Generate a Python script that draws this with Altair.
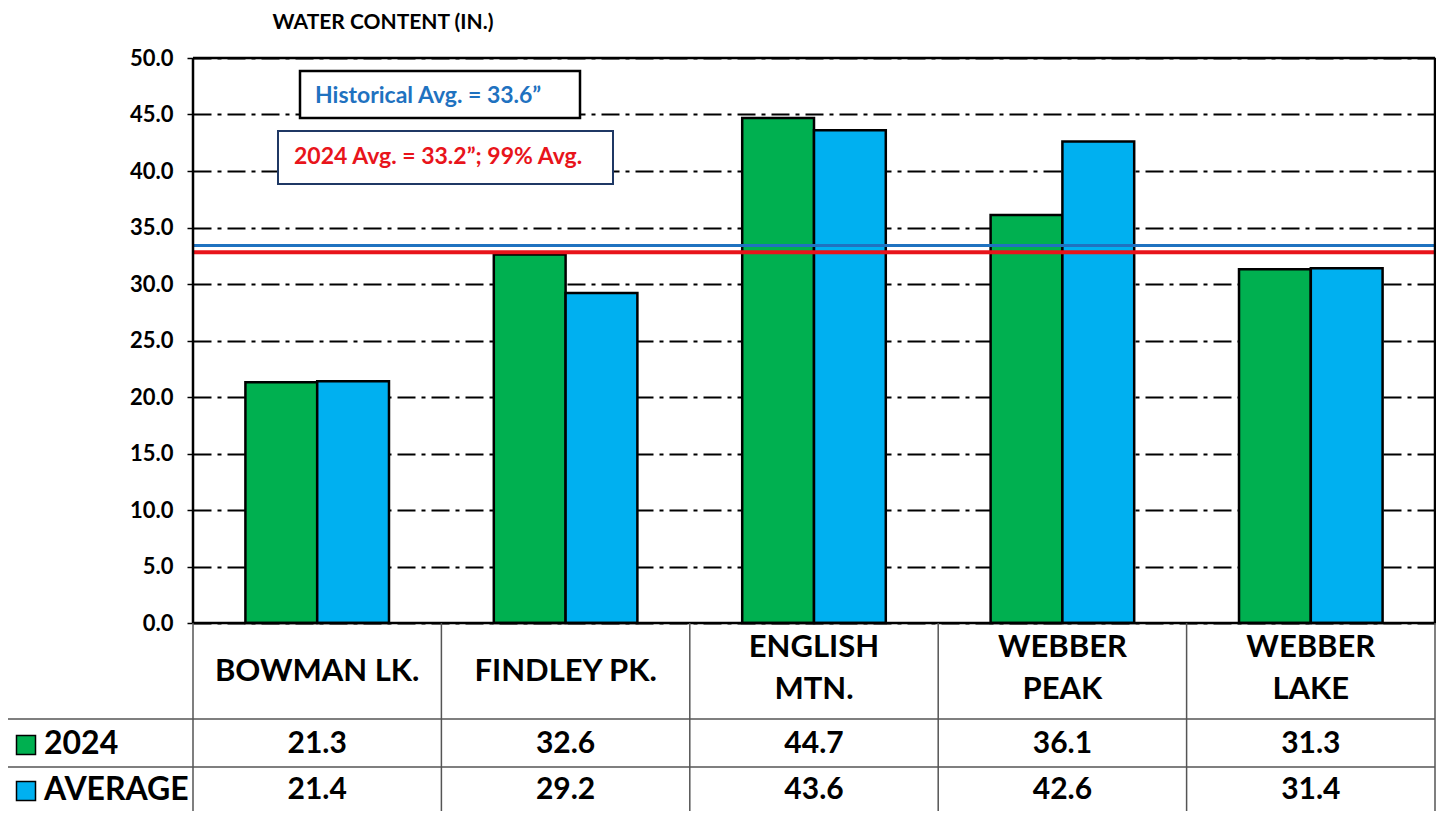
import altair as alt
import pandas as pd

# ---------------- data ----------------
sites = ["BOWMAN LK.", "FINDLEY PK.", "ENGLISH MTN.", "WEBBER PEAK", "WEBBER LAKE"]
site_labels = ["BOWMAN LK.", "FINDLEY PK.", "ENGLISH\nMTN.", "WEBBER\nPEAK", "WEBBER\nLAKE"]
series = ["2024", "AVERAGE"]
values_2024 = [21.3, 32.6, 44.7, 36.1, 31.3]
values_avg = [21.4, 29.2, 43.6, 42.6, 31.4]
series_colors = ["#00B050", "#00B0F0"]
y_ticks = [0, 5, 10, 15, 20, 25, 30, 35, 40, 45, 50]
hist_line_value = 33.4      # position of the drawn historical-average line
avg2024_line_value = 32.8   # position of the drawn 2024-average line
hist_text = "Historical Avg. = 33.6\u201d"
avg2024_text = "2024 Avg. = 33.2\u201d; 99% Avg."
chart_title = "WATER CONTENT (IN.)"

# ---------------- layout ----------------
W, H = 1242, 565
FONT = "Lato"
TABLE_BOTTOM = 753
ROW_LINE1, ROW_LINE2 = 661, 709
ROW1_Y, ROW2_Y = 686, 732
HEAD_Y1, HEAD_Y2 = 614, 590
LINE_COLOR = "#555555"

bars_df = pd.DataFrame({
    "site": sites * 2,
    "series": [series[0]] * len(sites) + [series[1]] * len(sites),
    "value": values_2024 + values_avg,
})
bars_df["label"] = bars_df["value"].map(lambda v: f"{v:.1f}")
sites_df = pd.DataFrame({"site": sites, "header": site_labels})
sites_df["lines"] = sites_df["header"].str.count("\n") + 1
lines_df = pd.DataFrame({"name": ["hist", "y2024"], "v": [hist_line_value, avg2024_line_value]})
legend_df = pd.DataFrame({"series": series})
one = alt.Data(values=[{}])

xscale = alt.Scale(domain=sites, paddingInner=0, paddingOuter=0)
X = alt.X("site:N", scale=xscale, axis=None, sort=sites)

bars = alt.Chart(bars_df).mark_bar(stroke="black", strokeWidth=2.5).encode(
    x=X,
    xOffset=alt.XOffset("series:N", sort=series,
                        scale=alt.Scale(domain=series, paddingInner=0, paddingOuter=0.73)),
    y=alt.Y("value:Q",
            scale=alt.Scale(domain=[0, 50], nice=False, zero=True),
            axis=alt.Axis(values=y_ticks, format=".1f", title=None, domain=False,
                          grid=True, gridColor="black", gridDash=[18, 6, 4, 6], gridWidth=2,
                          ticks=True, tickSize=6, tickColor="black", tickWidth=1.5,
                          labelFont=FONT, labelFontSize=22, labelFontWeight="bold",
                          labelColor="black", labelPadding=14)),
    color=alt.Color("series:N", scale=alt.Scale(domain=series, range=series_colors), legend=None),
)

hist_line = alt.Chart(lines_df).transform_filter(alt.datum.name == "hist").mark_rule(
    color="#1F72C0", strokeWidth=3).encode(y="v:Q")
y24_line = alt.Chart(lines_df).transform_filter(alt.datum.name == "y2024").mark_rule(
    color="#E8141B", strokeWidth=4).encode(y="v:Q")

# plot frame drawn explicitly on top of the grid
frame_style = dict(color="black", strokeWidth=2.5)
frame_top = alt.Chart(one).mark_rule(**frame_style).encode(
    x=alt.value(0), x2=alt.value(W), y=alt.value(0))
frame_bottom = alt.Chart(one).mark_rule(**frame_style).encode(
    x=alt.value(0), x2=alt.value(W), y=alt.value(H))
frame_left = alt.Chart(one).mark_rule(**frame_style).encode(
    x=alt.value(0), y=alt.value(0), y2=alt.value(H))
frame_right = alt.Chart(one).mark_rule(**frame_style).encode(
    x=alt.value(W), y=alt.value(0), y2=alt.value(H))

box1 = alt.Chart(one).mark_rect(fill="white", stroke="black", strokeWidth=2.5).encode(
    x=alt.value(107), x2=alt.value(387), y=alt.value(13), y2=alt.value(60))
box1_text = alt.Chart(one).mark_text(
    text=hist_text, align="left", baseline="middle", font=FONT, fontSize=23,
    fontWeight="bold", color="#1F72C0").encode(x=alt.value(122), y=alt.value(38))
box2 = alt.Chart(one).mark_rect(fill="white", stroke="#1F3864", strokeWidth=2).encode(
    x=alt.value(85), x2=alt.value(420), y=alt.value(73), y2=alt.value(126))
box2_text = alt.Chart(one).mark_text(
    text=avg2024_text, align="left", baseline="middle", font=FONT, fontSize=23,
    fontWeight="bold", color="#E8141B").encode(x=alt.value(101), y=alt.value(99))

title_text = alt.Chart(one).mark_text(
    text=chart_title, align="center", baseline="middle", font=FONT, fontSize=21,
    fontWeight="bold", color="black").encode(x=alt.value(190), y=alt.value(-35))

# ---------------- data table ----------------
col_rules = alt.Chart(sites_df).mark_rule(color=LINE_COLOR, strokeWidth=1.5).encode(
    x=alt.X("site:N", scale=xscale, axis=None, sort=sites, bandPosition=0),
    y=alt.value(H), y2=alt.value(TABLE_BOTTOM))
right_rule = alt.Chart(one).mark_rule(color=LINE_COLOR, strokeWidth=1.5).encode(
    x=alt.value(W), y=alt.value(H), y2=alt.value(TABLE_BOTTOM))
left_rule = alt.Chart(one).mark_rule(color=LINE_COLOR, strokeWidth=1.5).encode(
    x=alt.value(-188), y=alt.value(ROW_LINE1), y2=alt.value(TABLE_BOTTOM))
row_rule1 = alt.Chart(one).mark_rule(color=LINE_COLOR, strokeWidth=1.5).encode(
    x=alt.value(-188), x2=alt.value(W), y=alt.value(ROW_LINE1))
row_rule2 = alt.Chart(one).mark_rule(color=LINE_COLOR, strokeWidth=1.5).encode(
    x=alt.value(-188), x2=alt.value(W), y=alt.value(ROW_LINE2))

header_style = dict(font=FONT, fontSize=31, fontWeight="bold", color="black",
                    lineBreak="\n", lineHeight=42, baseline="middle")
header_text1 = alt.Chart(sites_df).transform_filter(alt.datum.lines == 1).mark_text(
    **header_style).encode(x=X, y=alt.value(HEAD_Y1), text="header:N")
header_text2 = alt.Chart(sites_df).transform_filter(alt.datum.lines == 2).mark_text(
    **header_style).encode(x=X, y=alt.value(HEAD_Y2), text="header:N")

num_style = dict(font=FONT, fontSize=30, fontWeight="bold", color="black", baseline="middle")
row1_text = alt.Chart(bars_df).transform_filter(alt.datum.series == series[0]).mark_text(
    **num_style).encode(x=X, y=alt.value(ROW1_Y), text="label:N")
row2_text = alt.Chart(bars_df).transform_filter(alt.datum.series == series[1]).mark_text(
    **num_style).encode(x=X, y=alt.value(ROW2_Y), text="label:N")

legend_sq1 = alt.Chart(legend_df).transform_filter(alt.datum.series == series[0]).mark_square(
    size=361, stroke="black", strokeWidth=1.5, opacity=1, color=series_colors[0]).encode(
    x=alt.value(-167), y=alt.value(ROW1_Y + 1))
legend_sq2 = alt.Chart(legend_df).transform_filter(alt.datum.series == series[1]).mark_square(
    size=361, stroke="black", strokeWidth=1.5, opacity=1, color=series_colors[1]).encode(
    x=alt.value(-167), y=alt.value(ROW2_Y + 1))
leg_style = dict(font=FONT, fontSize=32, fontWeight="bold", color="black", align="left",
                 baseline="middle")
legend_txt1 = alt.Chart(legend_df).transform_filter(alt.datum.series == series[0]).mark_text(
    **leg_style).encode(x=alt.value(-149), y=alt.value(ROW1_Y), text="series:N")
legend_txt2 = alt.Chart(legend_df).transform_filter(alt.datum.series == series[1]).mark_text(
    **leg_style).encode(x=alt.value(-149), y=alt.value(ROW2_Y), text="series:N")

chart = alt.layer(
    bars, hist_line, y24_line,
    frame_top, frame_bottom, frame_left, frame_right,
    box1, box1_text, box2, box2_text, title_text,
    col_rules, right_rule, left_rule, row_rule1, row_rule2,
    header_text1, header_text2, row1_text, row2_text,
    legend_sq1, legend_sq2, legend_txt1, legend_txt2,
).properties(
    width=W, height=H,
    autosize=alt.AutoSizeParams(type="none"),
    padding={"left": 185, "top": 50, "right": 1, "bottom": 188},
).configure_view(
    stroke="black", strokeWidth=2.5
).configure(
    background="white"
)

chart.save("out.html", embed_options={"renderer": "svg", "actions": False})
